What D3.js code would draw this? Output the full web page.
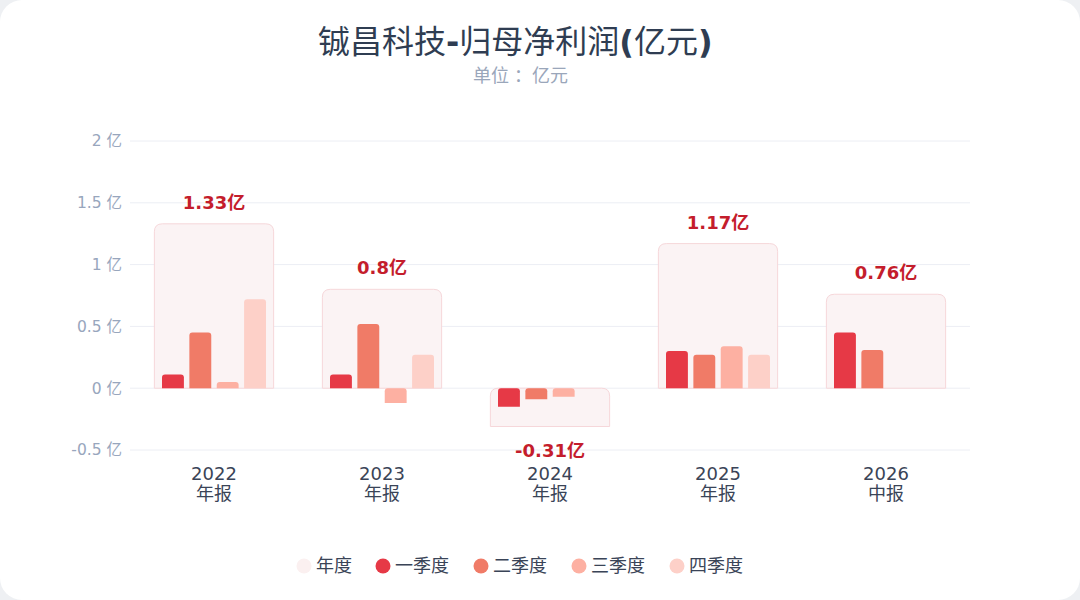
<!DOCTYPE html>
<html lang="zh">
<head>
<meta charset="UTF-8">
<title>铖昌科技-归母净利润</title>
<script src="https://d3js.org/d3.v7.min.js"></script>
<style>
    body { margin: 0; background: #eef0f3; }
    #card {
        position: absolute; left: 0; top: 0; width: 1080px; height: 600px;
        background: #fff; border-radius: 22px; overflow: hidden;
    }
    text { font-family: "DejaVu Sans", "Noto Sans CJK SC", sans-serif; }
</style>
</head>
<body>
<div id="card"><svg id="chart"></svg></div>
<script>
    const width = 1080, height = 600;

    // data (亿元)
    const years = ["2022", "2023", "2024", "2025", "2026"];
    const reportTypes = ["年报", "年报", "年报", "年报", "中报"];
    const annual = [1.33, 0.8, -0.31, 1.17, 0.76];
    const q1 = [0.11, 0.11, -0.15, 0.30, 0.45];
    const q2 = [0.45, 0.52, -0.09, 0.27, 0.31];
    const q3 = [0.05, -0.12, -0.07, 0.34, null];
    const q4 = [0.72, 0.27, null, 0.27, null];
    const seriesNames = ["一季度", "二季度", "三季度", "四季度"];
    const seriesColors = ["#e63946", "#f07b67", "#fdb0a2", "#fdd0c8"];
    const yTicks = [-0.5, 0, 0.5, 1, 1.5, 2];

    const quarters = [q1, q2, q3, q4];

    const svg = d3.select("#chart").attr("width", width).attr("height", height);

    const margin = {left: 130, right: 110};

    const x = d3.scaleBand()
        .domain(years)
        .range([margin.left, width - margin.right])
        .padding(0);

    const y = d3.scaleLinear()
        .domain([-0.5, 2])
        .range([450, 141]);

    // title: CJK regular, latin punctuation bold
    const title = svg.append("text")
        .attr("x", 318).attr("y", 53)
        .attr("font-size", 32)
        .attr("fill", "#2f3d52");
    [["铖昌科技", false], ["-", true], ["归母净利润", false], ["(", true], ["亿元", false], [")", true]]
        .forEach(([t, b]) => {
            title.append("tspan")
                .attr("font-family", b ? "DejaVu Sans" : "Noto Sans CJK SC")
                .attr("font-weight", b ? "bold" : "normal")
                .text(t);
        });

    // subtitle, colon nudged towards the centre like the reference
    const sub = svg.append("text")
        .attr("x", 473).attr("y", 82)
        .attr("font-size", 18)
        .attr("font-family", "Noto Sans CJK SC")
        .attr("fill", "#9aa6ba");
    sub.append("tspan").text("单位");
    sub.append("tspan").attr("dx", 5).text("：亿元");

    // grid
    svg.append("g").selectAll("line")
        .data(yTicks)
        .join("line")
        .attr("x1", margin.left).attr("x2", width - margin.right)
        .attr("y1", d => y(d)).attr("y2", d => y(d))
        .attr("stroke", "#eceef4").attr("stroke-width", 1);

    svg.append("g").selectAll("text")
        .data(yTicks)
        .join("text")
        .attr("x", 122).attr("y", d => y(d))
        .attr("dy", "0.35em")
        .attr("text-anchor", "end")
        .attr("font-size", 15.5)
        .attr("fill", "#98a6bd")
        .text(d => d + " 亿");

    // rounded top corners only
    function topRounded(x0, y0, w, h, r) {
        r = Math.min(r, w / 2, Math.abs(h));
        return `M${x0},${y0 + h}V${y0 + r}Q${x0},${y0} ${x0 + r},${y0}H${x0 + w - r}Q${x0 + w},${y0} ${x0 + w},${y0 + r}V${y0 + h}Z`;
    }

    const boxW = x.bandwidth() * 0.71;
    const inner = d3.scaleBand()
        .domain(d3.range(4))
        .range([-52, 52])
        .paddingInner(0.2);

    const groups = svg.append("g").selectAll("g")
        .data(years.map((yr, i) => ({
            year: yr, type: reportTypes[i], total: annual[i],
            qs: quarters.map((q, k) => ({k: k, v: q[i]})).filter(d => d.v != null)
        })))
        .join("g")
        .attr("transform", d => `translate(${x(d.year) + x.bandwidth() / 2},0)`);

    // annual background box
    groups.append("path")
        .attr("d", d => {
            const top = Math.min(y(d.total), y(0));
            const h = Math.abs(y(d.total) - y(0));
            return topRounded(-boxW / 2, top, boxW, h, 8);
        })
        .attr("fill", "#fbf3f4")
        .attr("stroke", "#f6d7da")
        .attr("stroke-width", 1);

    // quarter bars
    groups.selectAll("path.q")
        .data(d => d.qs)
        .join("path")
        .attr("class", "q")
        .attr("d", d => {
            const top = Math.min(y(d.v), y(0));
            const h = Math.abs(y(d.v) - y(0));
            return topRounded(inner(d.k), top, inner.bandwidth(), h, 3);
        })
        .attr("fill", d => seriesColors[d.k]);

    // annual labels
    groups.append("text")
        .attr("x", 0)
        .attr("y", d => d.total >= 0 ? y(d.total) - 15 : y(d.total) + 30)
        .attr("text-anchor", "middle")
        .attr("font-size", 18)
        .attr("font-weight", "bold")
        .attr("fill", "#c41d2c")
        .text(d => d.total + "亿");

    // x labels
    groups.append("text")
        .attr("y", 480)
        .attr("text-anchor", "middle")
        .attr("font-size", 18)
        .attr("fill", "#3a4457")
        .text(d => d.year);
    groups.append("text")
        .attr("y", 500)
        .attr("text-anchor", "middle")
        .attr("font-size", 18)
        .attr("fill", "#3a4457")
        .text(d => d.type);

    // legend
    const legendItems = [{name: "年度", color: "#fbf0f0"}].concat(
        seriesNames.map((n, i) => ({name: n, color: seriesColors[i]})));
    const legendX = [304, 383, 481, 579, 677];
    const legend = svg.append("g").selectAll("g")
        .data(legendItems)
        .join("g")
        .attr("transform", (d, i) => `translate(${legendX[i]},566)`);
    legend.append("circle").attr("r", 7.5).attr("fill", d => d.color);
    legend.append("text")
        .attr("x", 12).attr("dy", "0.35em")
        .attr("font-size", 18)
        .attr("fill", "#3a4457")
        .text(d => d.name);
</script>
</body>
</html>
